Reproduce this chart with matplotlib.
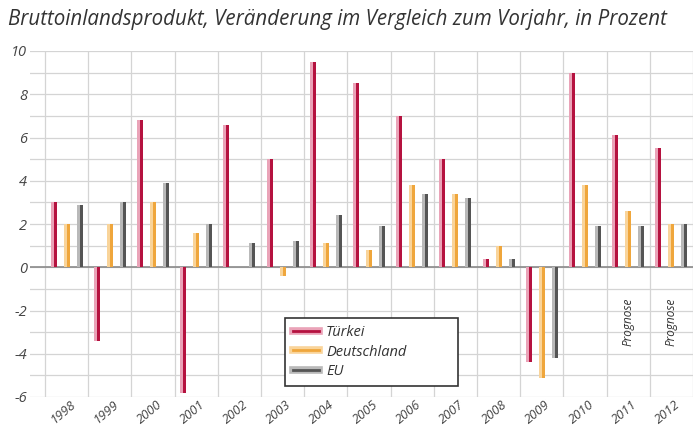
import matplotlib
matplotlib.use("Agg")
import matplotlib.pyplot as plt
from matplotlib.lines import Line2D
from matplotlib.legend_handler import HandlerTuple
from matplotlib.transforms import ScaledTranslation
import numpy as np

years = ["1998", "1999", "2000", "2001", "2002", "2003", "2004", "2005",
         "2006", "2007", "2008", "2009", "2010", "2011", "2012"]
tuerkei = [3.0, -3.4, 6.8, -5.8, 6.6, 5.0, 9.5, 8.5, 7.0, 5.0, 0.4, -4.4, 9.0, 6.1, 5.5]
deutschland = [2.0, 2.0, 3.0, 1.6, 0.0, -0.4, 1.1, 0.8, 3.8, 3.4, 1.0, -5.1, 3.8, 2.6, 2.0]
eu = [2.9, 3.0, 3.9, 2.0, 1.1, 1.2, 2.4, 1.9, 3.4, 3.2, 0.4, -4.2, 1.9, 1.9, 2.0]
series_names = ["Türkei", "Deutschland", "EU"]
prognose_years = ["2011", "2012"]
yticks = [-6, -4, -2, 0, 2, 4, 6, 8, 10]

light = ["#eaa3b8", "#f9d49a", "#b9b9b9"]
dark = ["#b5123f", "#efa63c", "#555555"]

FONT = ["Open Sans", "DejaVu Sans"]
plt.rcParams["font.family"] = FONT

fig = plt.figure(figsize=(7.0, 4.28), dpi=100)
ax = fig.add_axes([30/700, 1-397/428, (693-30)/700, (397-51)/428])

x = np.arange(len(years))
offsets = [-0.3, 0.0, 0.3]
half = 0.07
for i, vals in enumerate([tuerkei, deutschland, eu]):
    ax.bar(x + offsets[i] - half/2, vals, width=half, color=light[i], zorder=3, linewidth=0)
    ax.bar(x + offsets[i] + half/2, vals, width=half, color=dark[i], zorder=3, linewidth=0)

ax.set_xlim(-0.5 - 15/43.2, len(years) - 0.5)
ax.set_ylim(-6, 10)

for v in range(-6, 11):
    ax.axhline(v, color="#d4d4d4", lw=0.9, zorder=1)
ax.axhline(0, color="#8a8a8a", lw=1.2, zorder=2)
for b in np.arange(-0.5, len(years), 1.0):
    ax.axvline(b, color="#d4d4d4", lw=0.9, zorder=1)

for s in ax.spines.values():
    s.set_visible(False)

ax.set_yticks(yticks)
ax.set_yticklabels([str(t) for t in yticks], fontstyle="italic", fontsize=10.5, color="#444444")
ax.set_xticks(x + 0.0)
ax.set_xticklabels(years, rotation=40, ha="right", va="top", rotation_mode="anchor",
                   fontstyle="italic", fontsize=9.3, color="#444444")
ax.tick_params(length=0, pad=2)
ax.tick_params(axis="x", pad=1)
shift = ScaledTranslation(3/100, 0, fig.dpi_scale_trans)
for lab in ax.get_xticklabels():
    lab.set_transform(lab.get_transform() + shift)

for py in prognose_years:
    idx = years.index(py)
    ax.text(idx, -2.5, "Prognose", rotation=90, ha="center", va="center",
            fontstyle="italic", fontsize=8.5, color="#333333", zorder=4)

handles = [(Line2D([], [], color=light[i], lw=5.5), Line2D([], [], color=dark[i], lw=2))
           for i in range(3)]
leg = ax.legend(handles, series_names, handler_map={tuple: HandlerTuple(ndivide=1)},
                loc="upper left", bbox_to_anchor=(0.385, 0.0318, 0.261, 0.197), mode="expand",
                frameon=True, fancybox=False, framealpha=1, edgecolor="#333333",
                prop={"style": "italic", "size": 10.5}, handlelength=1.8, handletextpad=0.5,
                borderpad=0.5, labelspacing=0.3, borderaxespad=0)
leg.get_frame().set_linewidth(1.2)
leg.set_zorder(5)
for t in leg.get_texts():
    t.set_color("#333333")

fig.text(8/700, 1-20/428, "Bruttoinlandsprodukt, Veränderung im Vergleich zum Vorjahr, in Prozent",
         ha="left", va="center", fontstyle="italic", fontsize=14.8, color="#333333")

fig.savefig("out.png", dpi=100)
